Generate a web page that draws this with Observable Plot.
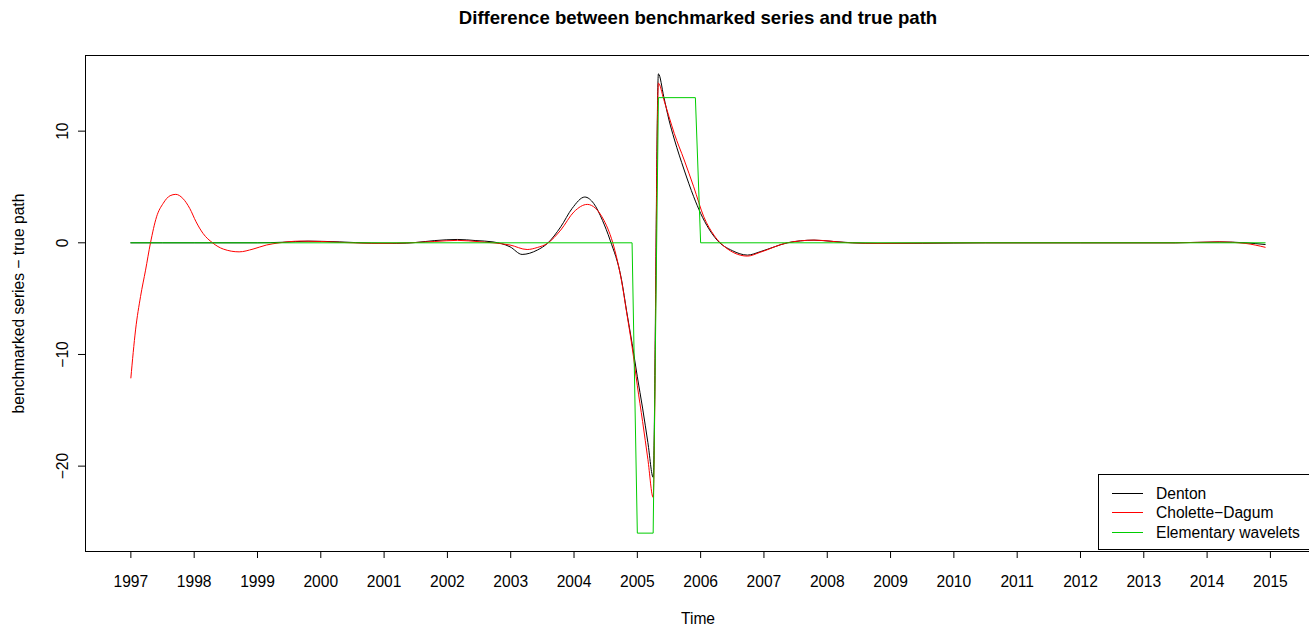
<!DOCTYPE html>
<html>
<head>
<meta charset="utf-8">
<script src="https://cdn.jsdelivr.net/npm/d3@7"></script>
<script src="https://cdn.jsdelivr.net/npm/@observablehq/plot@0.6"></script>
<style>
  html, body { margin: 0; padding: 0; background: #fff; }
  #wrap { position: relative; width: 1309px; height: 625px; overflow: hidden; font-family: "Liberation Sans", Arial, sans-serif; }
  #legend { position: absolute; left: 1098px; top: 474px; width: 230px; height: 76px; border: 1px solid #000; background: #fff; box-sizing: border-box; }
  .li { position: absolute; left: 0; height: 20px; width: 230px; font-size: 15.6px; color: #000; }
  .li span.sw { position: absolute; left: 13px; top: 9px; width: 31px; height: 0; border-top: 1px solid; }
  .li span.tx { position: absolute; left: 57px; top: 0; line-height: 20px; white-space: nowrap; }
</style>
</head>
<body>
<div id="wrap"></div>
<script>
// ---- data ----
const seriesNames = ["Denton", "Cholette\u2212Dagum", "Elementary wavelets"];
const seriesColors = ["#000000", "#ff0000", "#00cd00"];
const xTicks = [1997,1998,1999,2000,2001,2002,2003,2004,2005,2006,2007,2008,2009,2010,2011,2012,2013,2014,2015];
const yTicks = [-20, -10, 0, 10];

const dentonT = [1997.0, 1998.0, 1999.0, 1999.4, 1999.8, 2000.3, 2000.8, 2001.2, 2001.5, 2001.8, 2002.16, 2002.45, 2002.72, 2002.99, 2003.18, 2003.42, 2003.58, 2003.79, 2003.97, 2004.17, 2004.31, 2004.45, 2004.57, 2004.75, 2004.833, 2004.917, 2005.0, 2005.083, 2005.167, 2005.25, 2005.333, 2005.417, 2005.5, 2005.583, 2005.74, 2005.89, 2006.0, 2006.26, 2006.5, 2006.74, 2006.94, 2007.17, 2007.37, 2007.79, 2008.1, 2008.4, 2008.8, 2009.5, 2010.5, 2012.0, 2013.5, 2014.2, 2014.6, 2014.917];
const dentonV = [0, 0, 0, 0.05, 0.15, 0.08, -0.03, -0.05, 0.03, 0.2, 0.30, 0.2, 0.08, -0.36, -1.04, -0.65, -0.05, 1.43, 3.08, 4.10, 3.53, 2.0, 0.24, -3.3, -6.2, -9.0, -12.0, -14.8, -17.9, -21.0, 15.13, 13.1, 11.0, 9.3, 6.52, 4.13, 2.64, 0.24, -0.7, -1.1, -0.8, -0.35, 0, 0.24, 0.12, 0.0, -0.05, -0.04, 0, 0, 0, 0.08, 0.0, -0.15];

const choletteT = [1997.0, 1997.074, 1997.153, 1997.232, 1997.31, 1997.406, 1997.51, 1997.62, 1997.71, 1997.82, 1997.93, 1998.03, 1998.14, 1998.29, 1998.46, 1998.71, 1998.93, 1999.14, 1999.35, 1999.67, 2000.0, 2000.4, 2000.9, 2001.4, 2001.8, 2002.16, 2002.5, 2002.72, 2002.99, 2003.26, 2003.42, 2003.58, 2003.79, 2004.0, 2004.21, 2004.47, 2004.63, 2004.75, 2004.833, 2004.917, 2005.0, 2005.083, 2005.167, 2005.25, 2005.333, 2005.417, 2005.5, 2005.583, 2005.74, 2005.89, 2006.05, 2006.21, 2006.31, 2006.74, 2006.94, 2007.37, 2007.79, 2008.3, 2008.8, 2010.0, 2013.5, 2014.2, 2014.6, 2014.917];
const choletteV = [-12.1, -7.8, -4.8, -2.45, 0, 2.33, 3.53, 4.22, 4.34, 3.98, 3.08, 1.88, 0.84, 0, -0.56, -0.81, -0.56, -0.2, 0.0, 0.15, 0.12, 0.02, -0.05, 0.0, 0.12, 0.22, 0.1, 0.0, -0.2, -0.6, -0.42, -0.05, 1.14, 2.78, 3.44, 2.04, -0.36, -3.4, -6.3, -9.3, -12.8, -16.0, -19.4, -22.8, 14.3, 12.85, 11.3, 9.8, 7.42, 5.02, 2.33, 0.69, 0, -1.19, -0.85, 0, 0.24, 0.02, -0.05, 0, 0, 0.08, -0.05, -0.4];

const waveletT = [1997.0, 2004.917, 2005.0, 2005.25, 2005.333, 2005.917, 2006.0, 2014.917];
const waveletV = [0, 0, -26, -26, 13, 13, 0, 0];

// ---- build ----
const rows = (ts, vs) => ts.map((t, i) => ({t, v: vs[i]}));
const denton = rows(dentonT, dentonV);
const cholette = rows(choletteT, choletteV);
const wavelet = rows(waveletT, waveletV);
const fmt = d => (d < 0 ? "\u2212" + Math.abs(d) : String(d));
const FONT = "Liberation Sans, Arial, Helvetica, sans-serif";

const chart = Plot.plot({
  width: 1309,
  height: 625,
  marginLeft: 85,
  marginRight: -1,
  marginTop: 55,
  marginBottom: 74,
  style: {fontFamily: FONT, fontSize: "15.6px", background: "#fff", color: "#000"},
  x: {type: "linear", domain: [1996.2833, 2015.6333]},
  y: {type: "linear", domain: [-27.645, 16.775]},
  marks: [
    Plot.axisX(xTicks, {tickSize: 7, tickFormat: () => "", label: null, stroke: "#000"}),
    Plot.text(xTicks, {x: d => d, text: d => String(d), frameAnchor: "bottom", lineAnchor: "middle", textAnchor: "middle", dy: 30, fontSize: 15.6, fill: "#000"}),
    Plot.axisY(yTicks, {tickSize: 7, tickFormat: () => "", label: null, stroke: "#000"}),
    Plot.text(yTicks, {y: d => d, text: fmt, frameAnchor: "left", lineAnchor: "middle", textAnchor: "middle", dx: -23, rotate: -90, fontSize: 15.6, fill: "#000"}),
    Plot.line(denton, {x: "t", y: "v", stroke: seriesColors[0], strokeWidth: 1, curve: "monotone-x"}),
    Plot.line(cholette, {x: "t", y: "v", stroke: seriesColors[1], strokeWidth: 1, curve: "monotone-x"}),
    Plot.line(wavelet, {x: "t", y: "v", stroke: seriesColors[2], strokeWidth: 1, curve: "linear"}),
    Plot.frame({stroke: "#000", strokeWidth: 1}),
    Plot.text(["Difference between benchmarked series and true path"], {frameAnchor: "top", lineAnchor: "middle", textAnchor: "middle", dy: -37, fontSize: 18.6, fontWeight: "bold", fill: "#000"}),
    Plot.text(["Time"], {frameAnchor: "bottom", lineAnchor: "middle", textAnchor: "middle", dy: 67, fontSize: 15.6, fill: "#000"}),
    Plot.text(["benchmarked series \u2212 true path"], {frameAnchor: "left", lineAnchor: "middle", textAnchor: "middle", dx: -67, rotate: -90, fontSize: 15.6, fill: "#000"})
  ]
});

const wrap = document.getElementById("wrap");
wrap.appendChild(chart);

// legend
const lg = document.createElement("div");
lg.id = "legend";
seriesNames.forEach((name, i) => {
  const li = document.createElement("div");
  li.className = "li";
  li.style.top = (9 + i * 19.3) + "px";
  const sw = document.createElement("span");
  sw.className = "sw";
  sw.style.borderTopColor = seriesColors[i];
  const tx = document.createElement("span");
  tx.className = "tx";
  tx.textContent = name;
  li.appendChild(sw);
  li.appendChild(tx);
  lg.appendChild(li);
});
wrap.appendChild(lg);
</script>
</body>
</html>
